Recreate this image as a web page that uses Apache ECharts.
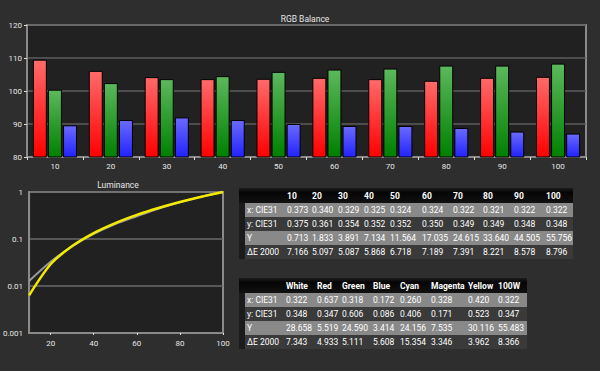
<!DOCTYPE html>
<html><head><meta charset="utf-8">
<script src="https://cdn.jsdelivr.net/npm/echarts@6/dist/echarts.min.js"></script>
<style>html,body{margin:0;padding:0;background:#2e2e2e;}#c{width:600px;height:371px;}</style>
</head><body><div id="c"></div>
<script>
// ---- RGB Balance data ----
const categories = ['10','20','30','40','50','60','70','80','90','100'];
const redValues   = [109.5,106.1,104.2,103.6,103.7,104.0,103.6,103.1,104.0,104.3];
const greenValues = [100.4,102.4,103.6,104.5,105.8,106.5,106.8,107.7,107.7,108.3];
const blueValues  = [89.6,91.2,92.0,91.2,90.0,89.4,89.4,88.8,87.7,87.1];

// ---- Luminance data ----
const lumX        = [10,20,30,40,50,60,70,80,90,100];
const lumMeasured = [0.0128,0.0329,0.0698,0.128,0.2074,0.3055,0.4415,0.6033,0.7982,1];
const lumTarget   = [0.0063,0.029,0.0707,0.1336,0.2176,0.325,0.456,0.612,0.793,1];
const lumXTicks   = [20,40,60,80,100];
const lumYLabels  = ['0.001','0.01','0.1','1'];

// ---- Table 1 (grayscale) ----
const t1Cols  = ['10','20','30','40','50','60','70','80','90','100'];
const rowLabels = ['x: CIE31','y: CIE31','Y','\u0394E 2000'];
const t1x  = [0.373,0.340,0.329,0.325,0.324,0.324,0.322,0.321,0.322,0.322];
const t1y  = [0.375,0.361,0.354,0.352,0.352,0.350,0.349,0.349,0.348,0.348];
const t1Y  = [0.713,1.833,3.891,7.134,11.564,17.035,24.615,33.640,44.505,55.756];
const t1dE = [7.166,5.097,5.087,5.868,6.718,7.189,7.391,8.221,8.578,8.796];

// ---- Table 2 (colors) ----
const t2Cols = ['White','Red','Green','Blue','Cyan','Magenta','Yellow','100W'];
const t2x  = [0.322,0.637,0.318,0.172,0.260,0.328,0.420,0.322];
const t2y  = [0.348,0.347,0.606,0.086,0.406,0.171,0.523,0.347];
const t2Y  = [28.658,5.519,24.590,3.414,24.156,7.535,30.116,55.483];
const t2dE = [7.343,4.933,5.111,5.608,15.354,3.346,3.962,8.366];

const FONT = 'Roboto, "Open Sans", sans-serif';
const txt = '#e6e6e6';

function grad(top, bottom) {
  return {type:'linear',x:0,y:0,x2:0,y2:1,colorStops:[{offset:0,color:top},{offset:1,color:bottom}]};
}

function buildTable(left, right, top, colX, cols, rows) {
  const els = [];
  const headH = 15, rowH = 14;
  els.push({type:'rect', shape:{x:left,y:top,width:right-left,height:headH},
    style:{fill:{type:'linear',x:0,y:0,x2:0,y2:1,colorStops:[{offset:0,color:'#1c1c1c'},{offset:0.3,color:'#050505'},{offset:1,color:'#111'}]}}});
  els.push({type:'rect', shape:{x:left,y:top+headH,width:6,height:rowH*4}, style:{fill:'#1b1b1b'}});
  rows.forEach((r, i) => {
    const y = top + headH + i*rowH;
    els.push({type:'rect', shape:{x:left+6,y:y,width:right-left-6,height:rowH},
      style:{fill: i%2===0 ? '#898989' : '#3a3a3a'}});
    els.push({type:'text', x:left+8, y:y+rowH/2,
      style:{text:rowLabels[i], fill:'#fff', font:'8.5px '+FONT, verticalAlign:'middle', align:'left'}});
    r.forEach((v, j) => {
      els.push({type:'text', x:colX[j], y:y+rowH/2,
        style:{text:v.toFixed(3), fill:'#fff', font:'8.5px '+FONT, verticalAlign:'middle', align:'left'}});
    });
  });
  cols.forEach((c, j) => {
    els.push({type:'text', x:colX[j], y:top+headH/2+0.5,
      style:{text:c, fill:'#fff', font:'bold 8.5px '+FONT, verticalAlign:'middle', align:'left'}});
  });
  return els;
}

const t1ColX = [287,312,338,364,390,422,453,483,514,546];
const t2ColX = [286,317,342,373,400,431,468,498];

const graphics = [].concat(
  buildTable(239, 573, 188, t1ColX, t1Cols, [t1x,t1y,t1Y,t1dE]),
  buildTable(239, 527, 278, t2ColX, t2Cols, [t2x,t2y,t2Y,t2dE])
);

const chart = echarts.init(document.getElementById('c'), null, {renderer:'svg'});
chart.setOption({
  backgroundColor:'#2e2e2e',
  animation:false,
  title:[
    {text:'RGB Balance', left:300, textAlign:'center', top:9,
     textStyle:{color:txt, fontSize:8.5, fontWeight:'normal', fontFamily:FONT}},
    {text:'Luminance', left:113, textAlign:'center', top:175,
     textStyle:{color:txt, fontSize:8.5, fontWeight:'normal', fontFamily:FONT}}
  ],
  grid:[
    {left:27, top:25, width:559, height:132, show:true, backgroundColor:'#212121', borderColor:'#8a8a8a', borderWidth:2},
    {left:25, top:192, width:198, height:141, show:true, backgroundColor:'#212121', borderColor:'#8a8a8a', borderWidth:2}
  ],
  xAxis:[
    {type:'category', gridIndex:0, data:categories,
     axisLine:{lineStyle:{color:'#8a8a8a', width:2}},
     axisTick:{show:true, length:3, lineStyle:{color:'#ddd'}},
     axisLabel:{color:txt, fontSize:8, fontFamily:FONT, margin:5}},
    {type:'value', gridIndex:1, min:10, max:100,
     axisLine:{lineStyle:{color:'#8a8a8a', width:2}},
     axisTick:{show:true, length:2, customValues:lumXTicks, lineStyle:{color:'#ddd'}},
     axisLabel:{color:txt, fontSize:8, fontFamily:FONT, margin:6, customValues:lumXTicks},
     splitLine:{show:false}}
  ],
  yAxis:[
    {type:'value', gridIndex:0, min:80, max:120, interval:10,
     axisLine:{show:true, lineStyle:{color:'#8a8a8a', width:2}},
     axisTick:{show:true, length:3, lineStyle:{color:'#ddd'}},
     axisLabel:{color:txt, fontSize:8, fontFamily:FONT, margin:5},
     splitLine:{lineStyle:{color:'#5c5c5c', width:1.5}}},
    {type:'log', gridIndex:1, logBase:10, min:0.001, max:1,
     axisLine:{show:true, lineStyle:{color:'#8a8a8a', width:2}},
     axisTick:{show:false},
     axisLabel:{color:txt, fontSize:8, fontFamily:FONT, margin:6,
       formatter:(v)=>lumYLabels[Math.round(Math.log10(v))+3]},
     splitLine:{lineStyle:{color:'#6a6a6a', width:1.5}}}
  ],
  series:[
    {type:'bar', xAxisIndex:0, yAxisIndex:0, data:redValues, barGap:'8%', barCategoryGap:'21%',
     itemStyle:{color:grad('#ff6a6a','#ff0000'), borderColor:'#000', borderWidth:1}},
    {type:'bar', xAxisIndex:0, yAxisIndex:0, data:greenValues, barGap:'8%', barCategoryGap:'21%',
     itemStyle:{color:grad('#5cb85c','#008000'), borderColor:'#000', borderWidth:1}},
    {type:'bar', xAxisIndex:0, yAxisIndex:0, data:blueValues, barGap:'8%', barCategoryGap:'21%',
     itemStyle:{color:grad('#6a6aff','#2222ff'), borderColor:'#000', borderWidth:1}},
    {type:'line', xAxisIndex:1, yAxisIndex:1, data:lumX.map((x,i)=>[x,lumMeasured[i]]),
     showSymbol:false, smooth:0.3, lineStyle:{color:'#9a9a9a', width:2}},
    {type:'line', xAxisIndex:1, yAxisIndex:1, data:lumX.map((x,i)=>[x,lumTarget[i]]),
     showSymbol:false, smooth:0.3, lineStyle:{color:'#f2ea00', width:2.5}}
  ],
  graphic:{elements:graphics}
});
</script>
</body></html>
